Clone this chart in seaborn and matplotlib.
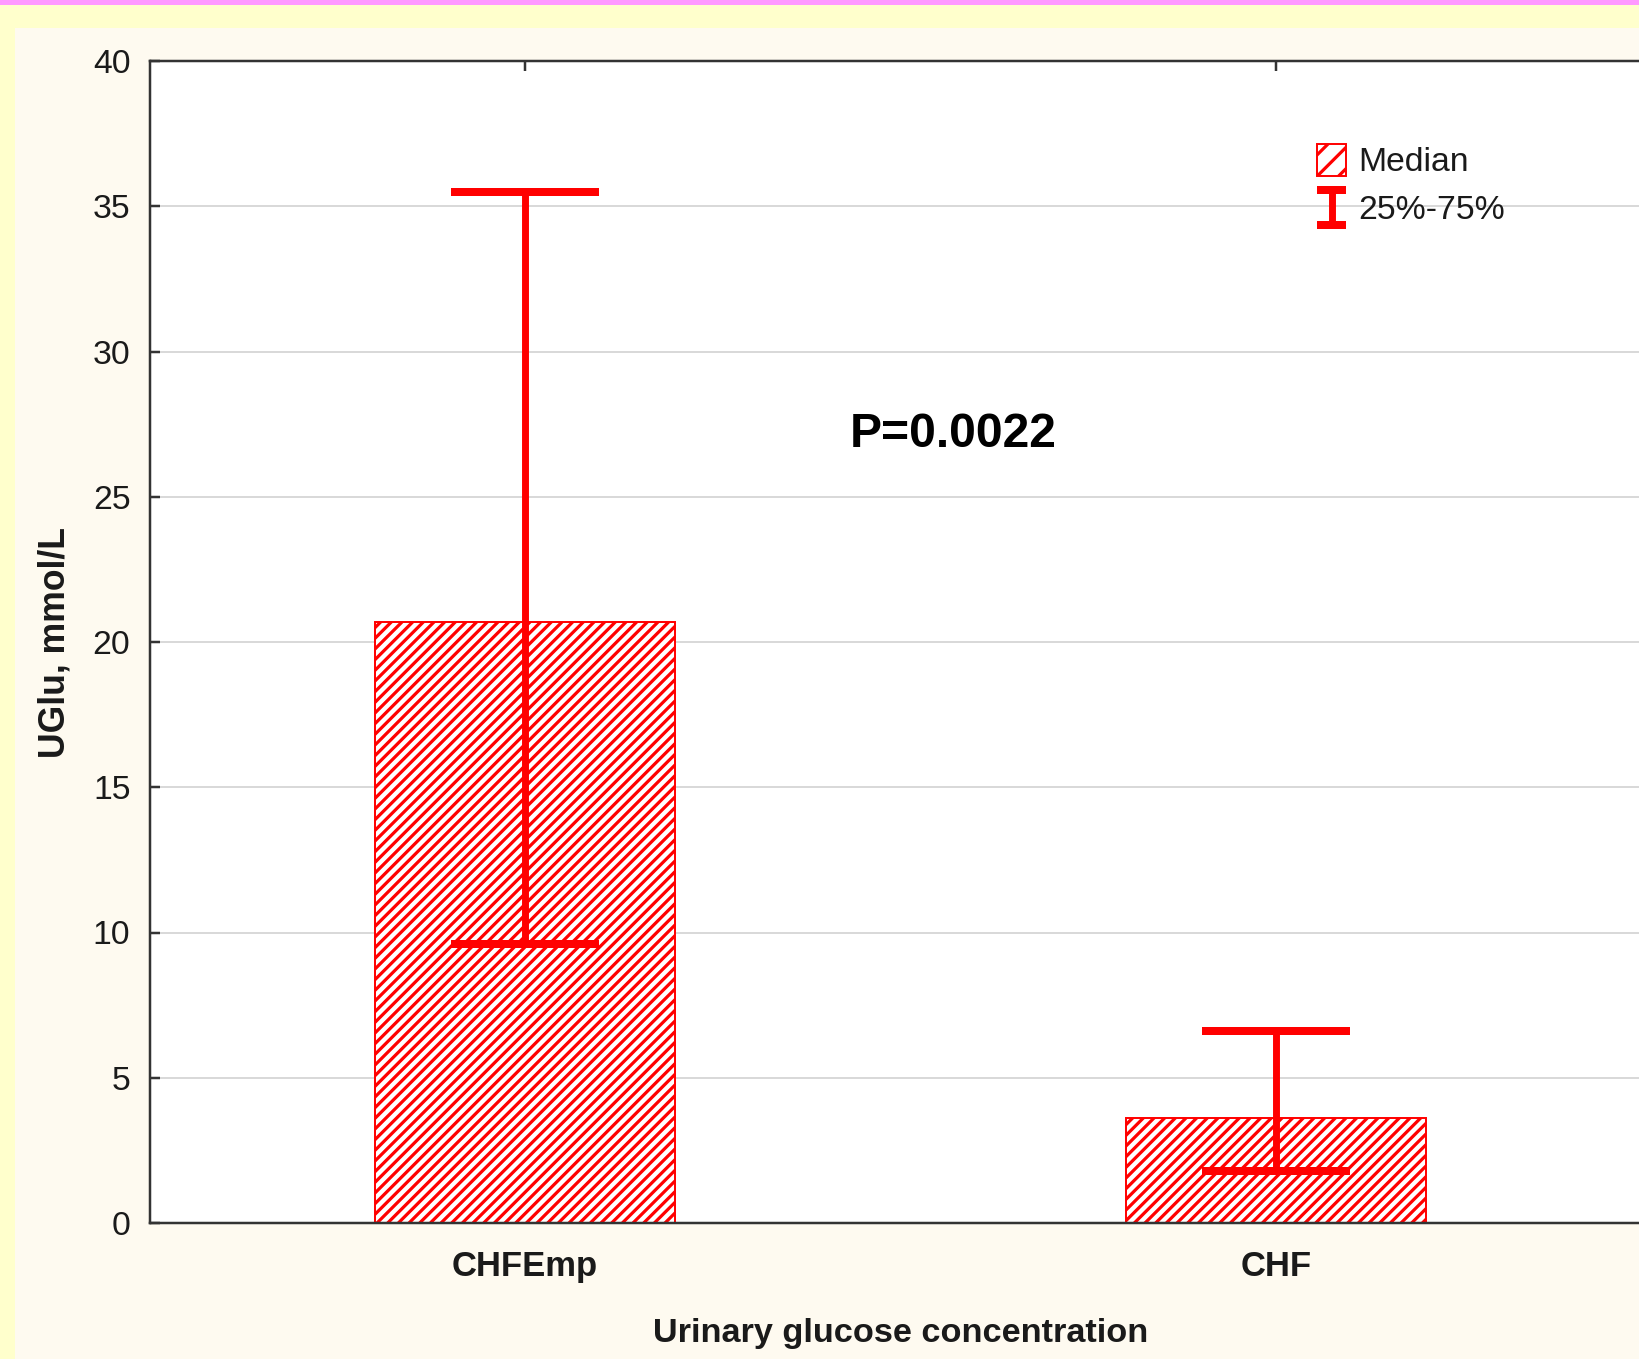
import numpy as np
import pandas as pd
import matplotlib
matplotlib.use("Agg")
import matplotlib.pyplot as plt
import seaborn as sns
from matplotlib.patches import Patch, Rectangle
from matplotlib.lines import Line2D
from matplotlib.legend_handler import HandlerBase

# Urinary glucose: median with interquartile range per group
categories = ["CHFEmp", "CHF"]
medians = [20.7, 3.6]
q25 = [9.6, 1.8]
q75 = [35.5, 6.6]
y_ticks = [0, 5, 10, 15, 20, 25, 30, 35, 40]
p_label = "P=0.0022"

sns.set_style("ticks")
plt.rcParams["font.family"] = ["Liberation Sans", "DejaVu Sans"]
plt.rcParams["hatch.linewidth"] = 1.8

RED = "#FF0000"
INK = "#1a1a1a"
DPI = 128
W, H = 1639, 1359

fig = plt.figure(figsize=(W / DPI, H / DPI), dpi=DPI, facecolor="#FFFFCC")
# cream panel and pink top strip of the slide frame
fig.add_artist(Rectangle((15 / W, 0), 1, (H - 28) / H, transform=fig.transFigure,
                         facecolor="#FEFAF0", edgecolor="none", zorder=-10))
fig.add_artist(Rectangle((0, (H - 5) / H), 1, 5 / H, transform=fig.transFigure,
                         facecolor="#FF99FF", edgecolor="none", zorder=-10))

ax = fig.add_axes([149.5 / W, 136 / H, 1502 / W, 1162 / H])
ax.set_facecolor("white")

df = pd.DataFrame({"group": categories, "median": medians})
sns.barplot(data=df, x="group", y="median", ax=ax, width=0.4, color="white",
            saturation=1, edgecolor=RED, linewidth=1.1, hatch="////", errorbar=None)

pos = np.arange(len(categories))
med = np.array(medians)
lower = med - np.array(q25)
upper = np.array(q75) - med
ax.errorbar(pos, med, yerr=[lower, upper], fmt="none", ecolor=RED,
            elinewidth=3.9, capsize=41.6, capthick=4.5, zorder=5)

ax.set_xlim(-0.5, 1.5)
ax.set_ylim(0, 40)
ax.set_yticks(y_ticks)
ax.yaxis.grid(True, color="#D9D9D9", linewidth=1.1)
ax.xaxis.grid(False)
ax.set_axisbelow(True)
for s in ["left", "top", "bottom"]:
    ax.spines[s].set_color("#333333")
    ax.spines[s].set_linewidth(1.4)
ax.spines["right"].set_visible(False)

ax.tick_params(axis="y", direction="in", length=5.5, width=1.4, color="#333333",
               labelsize=19, pad=10.7, labelcolor=INK, right=False)
ax.tick_params(axis="x", direction="in", top=True, length=5.5, width=1.4,
               color="#333333", labelsize=19.5, pad=15, labelcolor=INK)
for lab in ax.get_xticklabels():
    lab.set_fontweight("bold")

ax.set_xlabel("Urinary glucose concentration", fontsize=19.3, fontweight="bold",
              labelpad=20, color=INK)
ax.set_ylabel("UGlu, mmol/L", fontsize=20, fontweight="bold", labelpad=11.5, color=INK)

ax.text(0.57, 27.15, p_label, fontsize=27, fontweight="bold", ha="center",
        va="center", color="black")


class IQRKey:
    pass


class HandlerIQR(HandlerBase):
    def create_artists(self, legend, orig_handle, xdescent, ydescent, width,
                       height, fontsize, trans):
        x0, x1 = -xdescent, -xdescent + width
        xc = 0.5 * (x0 + x1)
        yb = -ydescent - 0.05 * height
        yt = -ydescent + 1.05 * height
        kw = dict(color=RED, solid_capstyle="butt", transform=trans)
        stem = Line2D([xc, xc], [yb, yt], lw=3.9, **kw)
        cap_b = Line2D([x0, x1], [yb, yb], lw=4.5, **kw)
        cap_t = Line2D([x0, x1], [yt, yt], lw=4.5, **kw)
        return [stem, cap_b, cap_t]


handles = [Patch(facecolor="white", edgecolor=RED, hatch="//", linewidth=1.1), IQRKey()]
leg = ax.legend(handles, ["Median", "25%-75%"], handler_map={IQRKey: HandlerIQR()},
                loc="upper left", bbox_to_anchor=(1317 / W, 1 - 144 / H),
                bbox_transform=fig.transFigure, frameon=False, fontsize=19,
                handlelength=0.86, handleheight=1.07, handletextpad=0.36,
                labelspacing=0.4, borderpad=0, borderaxespad=0)
for t in leg.get_texts():
    t.set_color(INK)

fig.savefig("out.png", dpi=DPI, facecolor=fig.get_facecolor())
